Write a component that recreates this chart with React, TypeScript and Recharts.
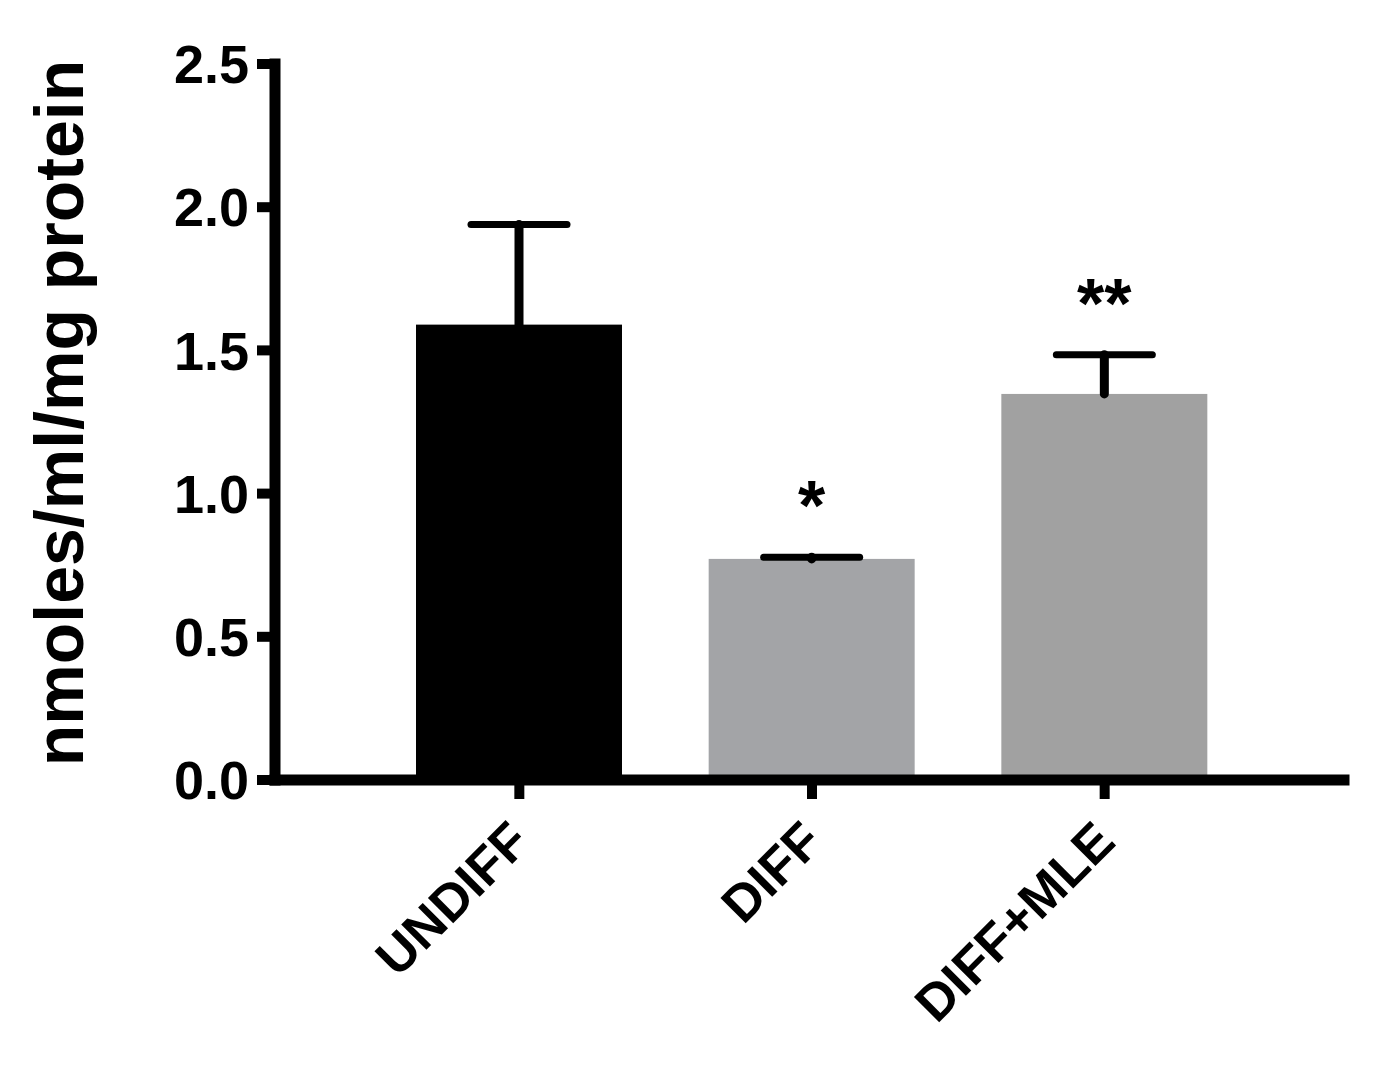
import { Bar, BarChart, Cell, XAxis, YAxis } from "recharts";

const categories = ["UNDIFF", "DIFF", "DIFF+MLE"];
const means = [1.59, 0.772, 1.348];
const sems = [0.35, 0.006, 0.137];
const marks = ["", "*", "**"];
const yTicks = [0, 0.5, 1, 1.5, 2, 2.5];

const barColors = ["#000000", "#a3a4a7", "#a1a1a1"];
const font = '"Liberation Sans", Arial, sans-serif';

const data = categories.map((name, i) => ({
  name,
  mean: means[i],
  sem: sems[i],
  mark: marks[i]
}));

function BarWithError(props: any) {
  const { x, y, width, height, payload, index } = props;
  const fill = barColors[index] ?? props.fill;
  // pixels per unit straight from the bar the scale produced
  const perUnit = height / payload.mean;
  const cx = x + width / 2;
  const top = y - payload.sem * perUnit;

  return (
    <g>
      <rect x={x} y={y} width={width} height={height} fill={fill} />
      <line x1={cx} x2={cx} y1={y} y2={top} stroke="#000" strokeWidth={9} strokeLinecap="round" />
      <line x1={cx - 48} x2={cx + 48} y1={top} y2={top} stroke="#000" strokeWidth={7} strokeLinecap="round" />
      {payload.mark ? (
        <text
          x={cx}
          y={top - 27}
          textAnchor="middle"
          fontSize={70}
          fontWeight="bold"
          fontFamily={font}
          fill="#000"
        >
          {payload.mark}
        </text>
      ) : null}
    </g>
  );
}

function CategoryTick({ x, y, payload }: any) {
  const ax = x + 13;
  const ay = y + 43;
  return (
    <text
      x={ax}
      y={ay}
      transform={`rotate(-45, ${ax}, ${ay})`}
      textAnchor="end"
      fontSize={52}
      fontWeight="bold"
      fontFamily={font}
      fill="#000"
    >
      {payload.value}
    </text>
  );
}

function YTitle() {
  return (
    <text
      x={75}
      y={405}
      transform="rotate(-90, 75, 405)"
      textAnchor="middle"
      fontSize={68}
      fontWeight="bold"
      fontFamily={font}
      fill="#000"
    >
      nmoles/ml/mg protein
    </text>
  );
}

export default function App() {
  return (
    <div style={{ width: 1370, height: 1042 }}>
      <BarChart
        width={1370}
        height={1042}
        data={data}
        margin={{ top: 56, right: 34, bottom: 0, left: 0 }}
      >
        <XAxis
          dataKey="name"
          interval={0}
          height={270}
          padding={{ left: 98, right: 93 }}
          tickSize={19}
          axisLine={{ stroke: "#000", strokeWidth: 11, strokeLinecap: "square" }}
          tickLine={{ stroke: "#000", strokeWidth: 10 }}
          tick={<CategoryTick />}
        />
        <YAxis
          width={267}
          domain={[0, 2.5]}
          ticks={yTicks}
          interval={0}
          tickFormatter={(v: number) => v.toFixed(1)}
          tickSize={18}
          tickMargin={8}
          axisLine={{ stroke: "#000", strokeWidth: 11, strokeLinecap: "square" }}
          tickLine={{ stroke: "#000", strokeWidth: 10 }}
          tick={{ fill: "#000", fontSize: 54, fontWeight: "bold", fontFamily: font }}
          label={<YTitle />}
        />
        <Bar dataKey="mean" barSize={206} shape={<BarWithError />} isAnimationActive={false}>
          {data.map((d, i) => (
            <Cell key={d.name} fill={barColors[i]} />
          ))}
        </Bar>
      </BarChart>
    </div>
  );
}
